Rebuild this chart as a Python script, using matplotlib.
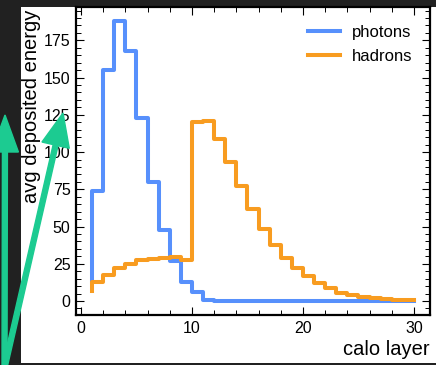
import matplotlib
matplotlib.use("Agg")
from matplotlib import pyplot as plt
from matplotlib.patches import Rectangle, FancyArrow
from matplotlib.transforms import IdentityTransform
from matplotlib.ticker import MultipleLocator
import numpy as np

# calo layer index and average deposited energy per layer
layers = np.arange(1, 31)
photons = [14, 74, 155, 188, 168, 123, 80, 48, 27, 13, 6, 1,
           0, 0, 0, 0, 0, 0, 0, 0, 0, 0, 0, 0, 0, 0, 0, 0, 0, 0]
hadrons = [7, 13, 17.5, 22, 25, 27.3, 28.5, 29.2, 29.8, 27.5, 120.5, 121,
           109, 93, 77, 62, 48.6, 37.4, 28.8, 22, 17, 12.3, 8.5, 5.6,
           3.9, 2.9, 2.2, 1.6, 1.0, 0.5]

plt.rcParams['font.family'] = ['Liberation Sans', 'DejaVu Sans']

fig = plt.figure(figsize=(4.36, 3.65), dpi=100, facecolor='#212121')
# white canvas of the screenshot
fig.add_artist(Rectangle((21, 2), 415, 356, transform=IdentityTransform(),
                         facecolor='white', edgecolor='none', zorder=-5))

ax = fig.add_axes([76 / 436, 1 - 315 / 365, 354 / 436, 308 / 365])
ax.step(layers, photons, where='pre', color='#5790fc', lw=2.9, label='photons')
ax.step(layers, hadrons, where='pre', color='#f89c20', lw=2.9, label='hadrons')

ax.xaxis.set_major_locator(MultipleLocator(10))
ax.xaxis.set_minor_locator(MultipleLocator(2))
ax.yaxis.set_major_locator(MultipleLocator(25))
ax.yaxis.set_minor_locator(MultipleLocator(5))
ax.tick_params(which='both', direction='in', top=True, right=True, labelsize=11.5)
ax.tick_params(which='major', length=6, width=0.8, pad=4)
ax.tick_params(which='minor', length=3.5, width=0.7)
for s in ax.spines.values():
    s.set_linewidth(1.6)

ax.set_xlabel('calo layer', fontsize=14.5, ha='right')
ax.xaxis.set_label_coords(1.0, -0.08)
ax.set_ylabel('avg deposited energy', fontsize=14.5, ha='right')
ax.yaxis.set_label_coords(-0.10, 0.99)

ax.legend(loc='upper right', frameon=False, fontsize=12, handlelength=1.9,
          handletextpad=0.75, borderaxespad=0.65, labelspacing=0.55)

# green annotation arrows
green = '#1ccb91'
fig.add_artist(FancyArrow(4.5, -5, 0.5, 255, width=5, head_width=27, head_length=37,
                          length_includes_head=True, color=green,
                          transform=IdentityTransform(), zorder=10))
fig.add_artist(FancyArrow(4, -5, 59, 257, width=5, head_width=28, head_length=33,
                          length_includes_head=True, color=green,
                          transform=IdentityTransform(), zorder=10))

fig.savefig('out.png', dpi=100, facecolor=fig.get_facecolor())
